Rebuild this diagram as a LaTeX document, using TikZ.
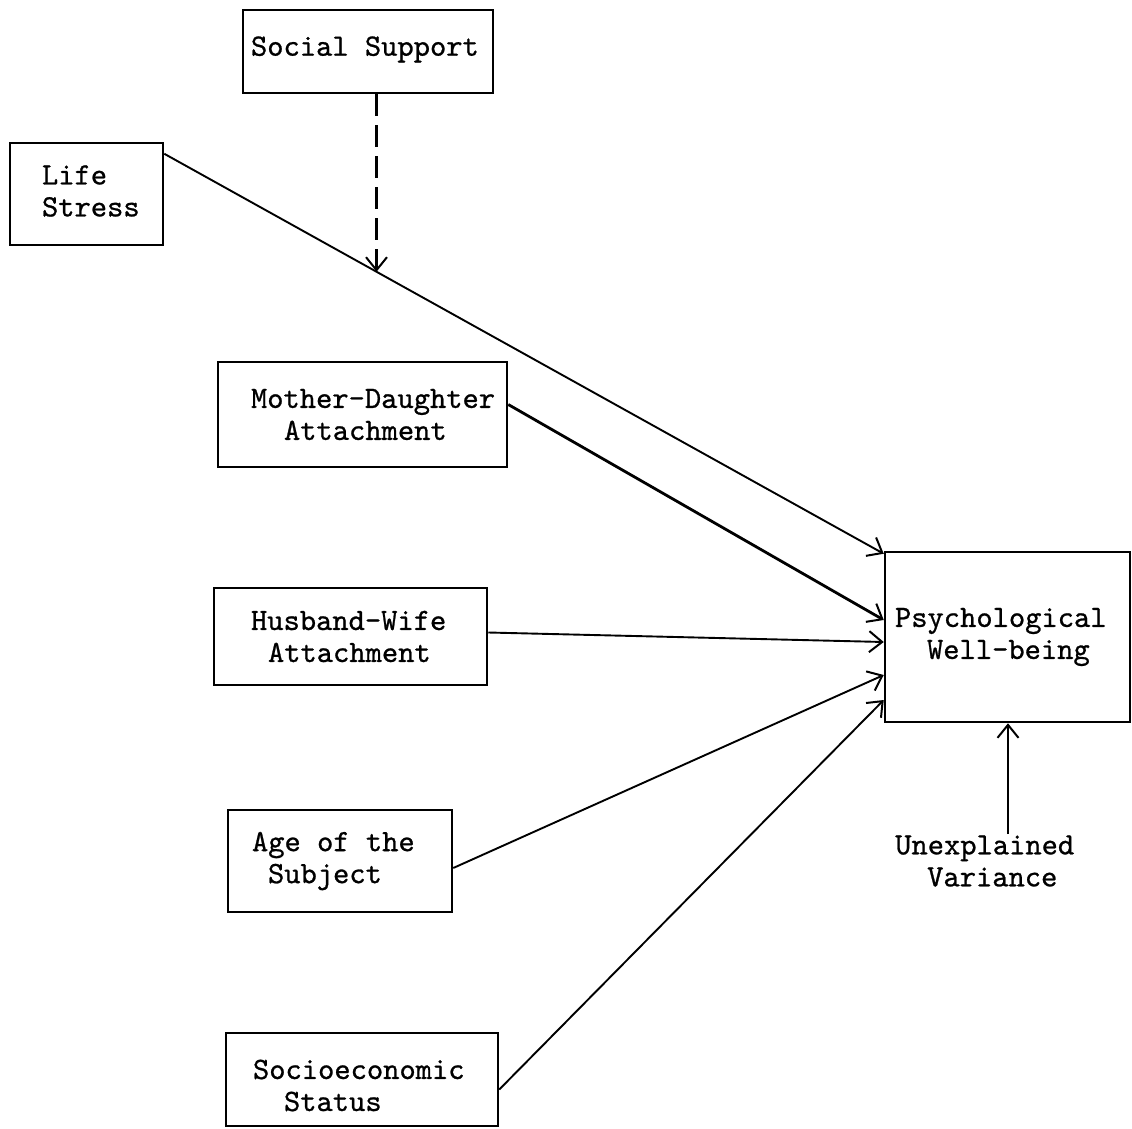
\documentclass[tikz,border=0pt]{standalone}
\usepackage{fontspec}
\usetikzlibrary{arrows.meta,calc}
\newfontfamily\typewriterface{lmmono10-regular.otf}[FakeBold=0.8]
% typewriter face with a full character-width space
\newcommand\typewriter{\typewriterface\fontsize{31}{32}\selectfont
  \fontdimen2\font=0.525em\fontdimen3\font=0pt\fontdimen4\font=0pt}
% move a line up or down without changing the layout
\newcommand\nudge[2]{\raisebox{#1}[\height][\depth]{#2}}
\begin{document}
\begin{tikzpicture}[x=1pt,y=-1pt,
  box/.style={draw, line width=2.5pt, rectangle, inner xsep=0pt, inner ysep=0pt,
    align=left, font=\typewriter,
    execute at begin node={\spaceskip=0.525em\xspaceskip=0.525em}},
  txt/.style={inner sep=0pt, align=left, font=\typewriter,
    execute at begin node={\spaceskip=0.525em\xspaceskip=0.525em}},
  path/.style={line width=1.9pt, -{Straight Barb[length=13pt,width=21pt,line width=2pt]}},
  strong/.style={path, line width=2.8pt},
  moderator/.style={path, line width=2.1pt, dashed, dash pattern=on 22pt off 9pt}]
\useasboundingbox (0,0) rectangle (1132,1129);

% variable boxes
\node[box, minimum width=250pt, minimum height=83pt, text width=250pt] (ss) at (368,51.5)
  {\hspace*{8pt}\nudge{2pt}{Social Support}};
\node[box, minimum width=153pt, minimum height=102pt, text width=153pt] (ls) at (86.5,194)
  {\hspace*{32pt}\nudge{3pt}{Life}\\\hspace*{32pt}\nudge{3pt}{Stress}};
\node[box, minimum width=289pt, minimum height=105pt, text width=289pt] (md) at (362.5,414.5)
  {\hspace*{33pt}Mother-Daughter\\\hspace*{66pt}Attachment};
\node[box, minimum width=273pt, minimum height=97pt, text width=273pt] (hw) at (350.5,636.5)
  {\hspace*{37pt}Husband-Wife\\\hspace*{54pt}Attachment};
\node[box, minimum width=224pt, minimum height=102pt, text width=224pt] (age) at (340,861)
  {\hspace*{24pt}Age of the\\\hspace*{40pt}Subject};
\node[box, minimum width=272pt, minimum height=93pt, text width=272pt] (ses) at (362,1079.5)
  {\hspace*{27pt}\nudge{-6pt}{Socioeconomic}\\\hspace*{58pt}\nudge{-6pt}{Status}};
\node[box, minimum width=245pt, minimum height=170pt, text width=245pt] (pwb) at (1007.5,637)
  {\hspace*{10pt}Psychological\\\hspace*{42pt}Well-being};

% residual term
\node[txt, anchor=west] (uv) at (895,861) {Unexplained\\\hspace*{32pt}Variance};
\coordinate (uvtop) at (1008,834);

% paths into well-being
\coordinate (lsout) at ($(ls.north east)+(0,12)$);
\coordinate (lsin) at ($(pwb.north west)+(0,3)$);
\draw[path] (lsout) -- (lsin);
\coordinate (j) at ($(lsout)!0.295!(lsin)$);
\draw[moderator] (j |- ss.south) -- (j);
\draw[strong] ($(md.east)+(0,-10)$) -- ($(pwb.west)+(0,-17)$);
\draw[path] ($(hw.east)+(0,-4)$) -- ($(pwb.west)+(0,5)$);
\draw[path] ($(age.east)+(0,7)$) -- ($(pwb.west)+(0,38)$);
\draw[path] ($(ses.east)+(0,10)$) -- ($(pwb.west)+(0,63)$);
\draw[path] (uvtop) -- (uvtop |- pwb.south);
\end{tikzpicture}
\end{document}
